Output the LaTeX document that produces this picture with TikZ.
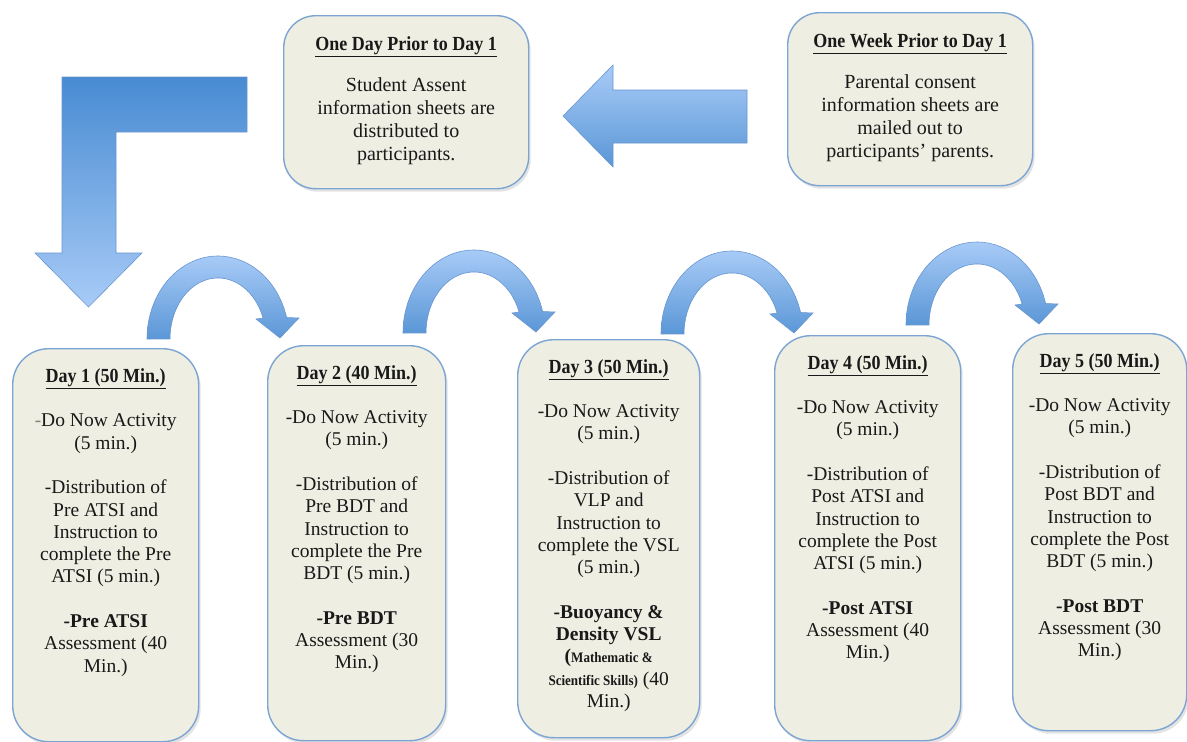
\documentclass[tikz,border=0pt]{standalone}
\usepackage{fontspec}
\setmainfont{Liberation Serif}
\newfontfamily\condfont[FakeStretch=0.9]{Liberation Serif}
\usetikzlibrary{shadows}
\definecolor{boxfill}{RGB}{238,238,226}
\definecolor{boxline}{RGB}{125,165,212}
\definecolor{arrowline}{RGB}{105,150,208}
\definecolor{adark}{RGB}{72,139,210}
\definecolor{alight}{RGB}{168,203,247}
\definecolor{txt}{RGB}{25,25,25}
\newcommand\ttl[1]{{\condfont\bfseries\fontsize{20}{22.3}\selectfont\underline{#1}}}
\newcommand\bendarrow[2]{%
  \begin{scope}[shift={(#1,-#2)}]
    \path[blockarrow, top color=alight, bottom color=adark!90]
      (0,0) arc[start angle=180,end angle=15,x radius=71,y radius=83]
      -- (152,21) -- (133,1) -- (109,20) -- (116.1,20.9)
      arc[start angle=20,end angle=180,x radius=48,y radius=61] -- cycle;
  \end{scope}}
\tikzset{
  infobox/.style={draw=boxline, line width=1.4pt, fill=boxfill, rounded corners=32pt,
    drop shadow={opacity=0.22, shadow xshift=2pt, shadow yshift=-3pt}},
  daybox/.style={infobox, rounded corners=36pt},
  boxtext/.style={inner sep=0pt, align=center, font=\fontsize{20}{23}\selectfont, text=txt},
  daytext/.style={inner sep=0pt, align=center, font=\fontsize{19.5}{22.3}\selectfont, text=txt},
  blockarrow/.style={draw=arrowline, line width=0.6pt, line join=miter},
}
\begin{document}
\begin{tikzpicture}[x=1pt,y=1pt]
\useasboundingbox (0,0) rectangle (1187,-742);

% ---- top boxes ----
\node[infobox, anchor=north west, minimum width=245pt, minimum height=173pt] (oneday) at (283,-15) {};
\node[boxtext, anchor=north] (onedayt) at ([yshift=-21.5pt]oneday.north)
  {\ttl{One Day Prior to Day 1}\\[18pt]
   Student Assent\\ information sheets are\\ distributed to\\ participants.};

\node[infobox, anchor=north west, minimum width=245pt, minimum height=173pt] (oneweek) at (787,-12) {};
\node[boxtext, anchor=north] (oneweekt) at ([yshift=-21.5pt]oneweek.north)
  {\ttl{One Week Prior to Day 1}\\[18pt]
   Parental consent\\ information sheets are\\ mailed out to\\ participants’ parents.};

% ---- straight block arrows ----
\path[blockarrow, top color=alight, bottom color=adark!90]
  (563,-116) -- (613,-65) -- (613,-90) -- (747,-90) -- (747,-143) -- (613,-143) -- (613,-167) -- cycle;
\path[blockarrow, top color=adark, bottom color=alight]
  (62,-77) -- (247,-77) -- (247,-132) -- (116,-132) -- (116,-253) -- (142,-253)
  -- (88.5,-307) -- (35,-253) -- (62,-253) -- cycle;

% ---- curved arrows ----
\bendarrow{147}{339}
\bendarrow{403}{333}
\bendarrow{661}{334}
\bendarrow{906}{325}

% ---- day boxes ----
\node[daybox, anchor=north west, minimum width=186pt, minimum height=393pt] (d1) at (12,-348) {};
\node[daybox, anchor=north west, minimum width=178pt, minimum height=395pt] (d2) at (267,-345) {};
\node[daybox, anchor=north west, minimum width=182pt, minimum height=398pt] (d3) at (517,-339) {};
\node[daybox, anchor=north west, minimum width=186pt, minimum height=405pt] (d4) at (774,-335) {};
\node[daybox, anchor=north west, minimum width=174pt, minimum height=397pt] (d5) at (1012,-333) {};

\node[daytext, anchor=north] (d1t) at ([yshift=-20.5pt]d1.north)
  {\ttl{Day 1 (50 Min.)}\\[22pt]
   {\color{gray}-}Do Now Activity\\ (5 min.)\\[22.3pt]
   -Distribution of\\ Pre ATSI and\\ Instruction to\\ complete the Pre\\ ATSI (5 min.)\\[22.3pt]
   \textbf{-Pre ATSI}\\ Assessment (40\\ Min.)};

\node[daytext, anchor=north] (d2t) at ([yshift=-20.5pt]d2.north)
  {\ttl{Day 2 (40 Min.)}\\[21.7pt]
   -Do Now Activity\\ (5 min.)\\[22.3pt]
   -Distribution of\\ Pre BDT and\\ Instruction to\\ complete the Pre\\ BDT (5 min.)\\[22.3pt]
   \textbf{-Pre BDT}\\ Assessment (30\\ Min.)};

\node[daytext, anchor=north] (d3t) at ([yshift=-20.5pt]d3.north)
  {\ttl{Day 3 (50 Min.)}\\[21.7pt]
   -Do Now Activity\\ (5 min.)\\[22.3pt]
   -Distribution of\\ VLP and\\ Instruction to\\ complete the VSL\\ (5 min.)\\[22.3pt]
   \textbf{-Buoyancy \&}\\ \textbf{Density VSL}\\
   \textbf{(}{\condfont\bfseries\fontsize{14.5}{22.3}\selectfont Mathematic \&}\\
   {\condfont\bfseries\fontsize{14.5}{22.3}\selectfont Scientific Skills)} (40\\ Min.)};

\node[daytext, anchor=north] (d4t) at ([yshift=-20.5pt]d4.north)
  {\ttl{Day 4 (50 Min.)}\\[21.7pt]
   -Do Now Activity\\ (5 min.)\\[22.3pt]
   -Distribution of\\ Post ATSI and\\ Instruction to\\ complete the Post\\ ATSI (5 min.)\\[22.3pt]
   \textbf{-Post ATSI}\\ Assessment (40\\ Min.)};

\node[daytext, anchor=north] (d5t) at ([yshift=-20.5pt]d5.north)
  {\ttl{Day 5 (50 Min.)}\\[21.7pt]
   -Do Now Activity\\ (5 min.)\\[22.3pt]
   -Distribution of\\ Post BDT and\\ Instruction to\\ complete the Post\\ BDT (5 min.)\\[22.3pt]
   \textbf{-Post BDT}\\ Assessment (30\\ Min.)};
\end{tikzpicture}
\end{document}
